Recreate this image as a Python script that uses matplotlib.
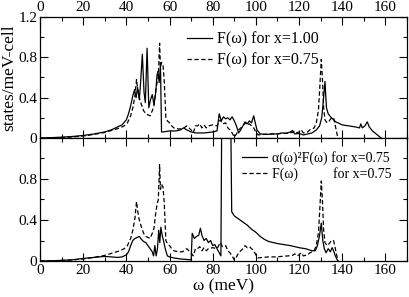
import matplotlib
matplotlib.use("Agg")
import matplotlib.pyplot as plt
from matplotlib.ticker import MultipleLocator, FixedLocator

plt.rcParams['font.family'] = ['Liberation Serif', 'DejaVu Serif']

# F(omega) for x=1.00
w1 = [0, 5, 10, 15, 20, 25, 30, 33, 36, 38, 40, 41, 42, 43, 43.8, 44.5, 45.2, 46, 46.6, 47.4,
      48.2, 48.8, 49.6, 50.4, 51.2, 52, 52.8, 53.6, 54.2, 54.6, 55.2, 55.8, 56.3, 57, 60, 63,
      65, 66.5, 68, 70, 72, 74, 76, 78, 80, 82, 83, 84, 85, 86, 87, 88, 89, 90, 91, 92, 93,
      94, 95, 96, 97, 98, 99, 99.5, 100.5, 102, 105, 108, 110, 112, 114, 116, 117, 118, 120,
      122, 124, 126, 128, 129.5, 130.5, 131.3, 132, 132.7, 133.5, 135, 137, 140, 143, 146,
      148, 148.6, 149.3, 150.5, 151.6, 152.5, 154, 156, 158]
f1 = [0, 0.003, 0.008, 0.015, 0.025, 0.04, 0.06, 0.08, 0.11, 0.13, 0.18, 0.24, 0.32, 0.42,
      0.48, 0.4, 0.5, 0.38, 0.55, 0.83, 0.45, 0.35, 0.89, 0.3, 0.38, 0.43, 0.33, 0.45, 0.62,
      0.66, 0.55, 0.72, 0.06, 0.06, 0.07, 0.07, 0.08, 0.1, 0.08, 0.06, 0.05, 0.05, 0.05,
      0.055, 0.06, 0.07, 0.24, 0.17, 0.21, 0.19, 0.2, 0.18, 0.21, 0.17, 0.12, 0.05, 0.08,
      0.12, 0.16, 0.14, 0.17, 0.15, 0.22, 0.17, 0.08, 0.04, 0.035, 0.04, 0.04, 0.05, 0.045,
      0.06, 0.075, 0.04, 0.045, 0.03, 0.04, 0.05, 0.08, 0.12, 0.2, 0.38, 0.56, 0.3, 0.24,
      0.2, 0.16, 0.13, 0.12, 0.11, 0.1, 0.14, 0.1, 0.12, 0.16, 0.11, 0.07, 0.035, 0]

# F(omega) for x=0.75
w2 = [0, 5, 10, 15, 20, 25, 30, 34, 37, 39, 40.5, 42, 43, 44, 44.7, 45.3, 46, 47, 48, 49, 50,
      51, 52, 52.8, 53.5, 54.2, 54.8, 55.4, 55.8, 56.3, 57, 57.6, 58.3, 59, 60, 61, 62, 64,
      66, 68, 70, 71, 72, 73, 74, 75, 76, 77, 78, 80, 82, 83.5, 84.5, 86, 87, 88, 89, 90,
      91, 92, 93, 94, 95, 96, 97, 98, 99, 100, 101, 103, 106, 109, 112, 115, 117, 118, 119,
      120, 121, 122, 124, 125, 126, 127, 128, 129, 129.6, 130.3, 130.8, 131.4, 132, 133,
      134, 135, 136, 136.8, 137.5, 138]
f2 = [0, 0.002, 0.005, 0.01, 0.02, 0.035, 0.055, 0.08, 0.1, 0.12, 0.15, 0.22, 0.3, 0.42,
      0.58, 0.48, 0.4, 0.33, 0.27, 0.24, 0.23, 0.22, 0.27, 0.32, 0.45, 0.55, 0.6, 0.94, 0.7,
      0.75, 0.72, 0.55, 0.2, 0.17, 0.15, 0.12, 0.1, 0.09, 0.09, 0.12, 0.08, 0.05, 0.12, 0.12,
      0.14, 0.1, 0.13, 0.1, 0.12, 0.13, 0.12, 0.18, 0.14, 0.15, 0.1, 0.08, 0.05, 0.01, 0.04,
      0.08, 0.1, 0.12, 0.15, 0.13, 0.14, 0.12, 0.1, 0.06, 0.03, 0.035, 0.04, 0.04, 0.045,
      0.05, 0.055, 0.07, 0.05, 0.06, 0.08, 0.05, 0.06, 0.08, 0.09, 0.1, 0.15, 0.28, 0.5,
      0.78, 0.6, 0.3, 0.18, 0.15, 0.17, 0.2, 0.2, 0.12, 0.05, 0]

# alpha^2 F(omega) for x=0.75
w3 = [0, 5, 10, 15, 20, 25, 30, 33, 36, 38, 40, 41, 42, 43, 44, 45, 46, 47, 48, 49, 50, 51,
      52, 52.6, 53.2, 53.8, 54.4, 55, 55.5, 56, 56.6, 57.2, 58, 59, 60, 62, 65, 68, 70, 70.5,
      71.5, 72.5, 73.5, 74.3, 75, 76, 77, 78, 79, 80, 81, 82, 83, 83.8, 84.2, 88.3, 88.8,
      90, 92, 94, 96, 98, 100, 102, 104, 106, 108, 110, 113, 116, 120, 123, 126, 127.5,
      128.5, 129.5, 130.3, 131, 131.7, 132.5, 133.5, 134.5, 135.3, 136, 136.8, 137.5, 138]
f3 = [0, 0.002, 0.006, 0.012, 0.025, 0.035, 0.045, 0.04, 0.035, 0.04, 0.06, 0.09, 0.15, 0.2,
      0.22, 0.23, 0.24, 0.21, 0.19, 0.18, 0.15, 0.12, 0.09, 0.05, 0.15, 0.05, 0.12, 0.3,
      0.18, 0.33, 0.25, 0.2, 0.12, 0.05, 0.04, 0.03, 0.02, 0.015, 0.01, 0.27, 0.22, 0.24,
      0.25, 0.32, 0.25, 0.2, 0.22, 0.18, 0.2, 0.15, 0.16, 0.12, 0.08, 0.05, 1.5, 1.5, 0.48,
      0.44, 0.41, 0.38, 0.35, 0.31, 0.28, 0.24, 0.21, 0.19, 0.18, 0.17, 0.16, 0.15, 0.13,
      0.12, 0.1, 0.1, 0.15, 0.25, 0.37, 0.2, 0.12, 0.08, 0.12, 0.09, 0.13, 0.1, 0.05, 0.02, 0]

xticks = [0, 20, 40, 60, 80, 100, 120, 140, 160]
yticks_top = [0, 0.4, 0.8, 1.2]
yticks_bot = [0, 0.4, 0.8]
ylabels_top = ['0', '0.4', '0.8', '1.2']
ylabels_bot = ['0', '0.4', '0.8']

fig = plt.figure(figsize=(4.09, 2.97), dpi=100)
ax1 = fig.add_axes([0.0978, 0.5354, 0.8973, 0.4074])
ax2 = fig.add_axes([0.0978, 0.1212, 0.8973, 0.4142])

lw = 0.9
dash = (0, (3.5, 2))
ax1.plot(w1, f1, color='black', lw=lw, label='F(ω) for x=1.00')
ax1.plot(w2, f2, color='black', lw=lw, ls=dash, label='F(ω) for x=0.75')
ax2.plot(w3, f3, color='black', lw=lw, label='α(ω)²F(ω) for x=0.75')
ax2.plot(w2, f2, color='black', lw=lw, ls=dash, label='F(ω)          for x=0.75')

for ax in (ax1, ax2):
    ax.set_xlim(0, 170)
    ax.set_ylim(0, 1.2)
    ax.xaxis.set_major_locator(FixedLocator(xticks))
    ax.xaxis.set_minor_locator(MultipleLocator(10))
    ax.yaxis.set_minor_locator(MultipleLocator(0.2))
    ax.tick_params(which='both', direction='in', top=True, right=True, labelsize=11,
                   width=0.8)
    ax.tick_params(which='major', length=6)
    ax.tick_params(which='minor', length=3)
    for s in ax.spines.values():
        s.set_linewidth(0.9)

ax1.set_yticks(yticks_top)
ax1.set_yticklabels(ylabels_top)
ax1.set_xticklabels([str(t) for t in xticks])
ax1.tick_params(axis='x', labeltop=True, labelbottom=False, pad=2)
ax1.tick_params(axis='y', pad=2)
ax2.set_yticks(yticks_bot)
ax2.set_yticklabels(ylabels_bot)
ax2.set_xticklabels([str(t) for t in xticks])
ax2.tick_params(axis='x', pad=2)
ax2.tick_params(axis='y', pad=2)

ax1.set_ylabel('states/meV-cell', fontsize=12.5, labelpad=1)
ax2.set_xlabel('ω (meV)', fontsize=12.5, labelpad=1)

ax1.legend(loc='upper right', bbox_to_anchor=(0.79, 0.97), frameon=False, fontsize=11.5,
           handlelength=1.6, handletextpad=0.3, borderpad=0.2, labelspacing=0.3)
ax2.legend(loc='upper right', bbox_to_anchor=(0.985, 0.97), frameon=False, fontsize=10,
           handlelength=1.8, handletextpad=0.4, borderpad=0.2, labelspacing=0.15)

fig.savefig('out.png', dpi=100)
